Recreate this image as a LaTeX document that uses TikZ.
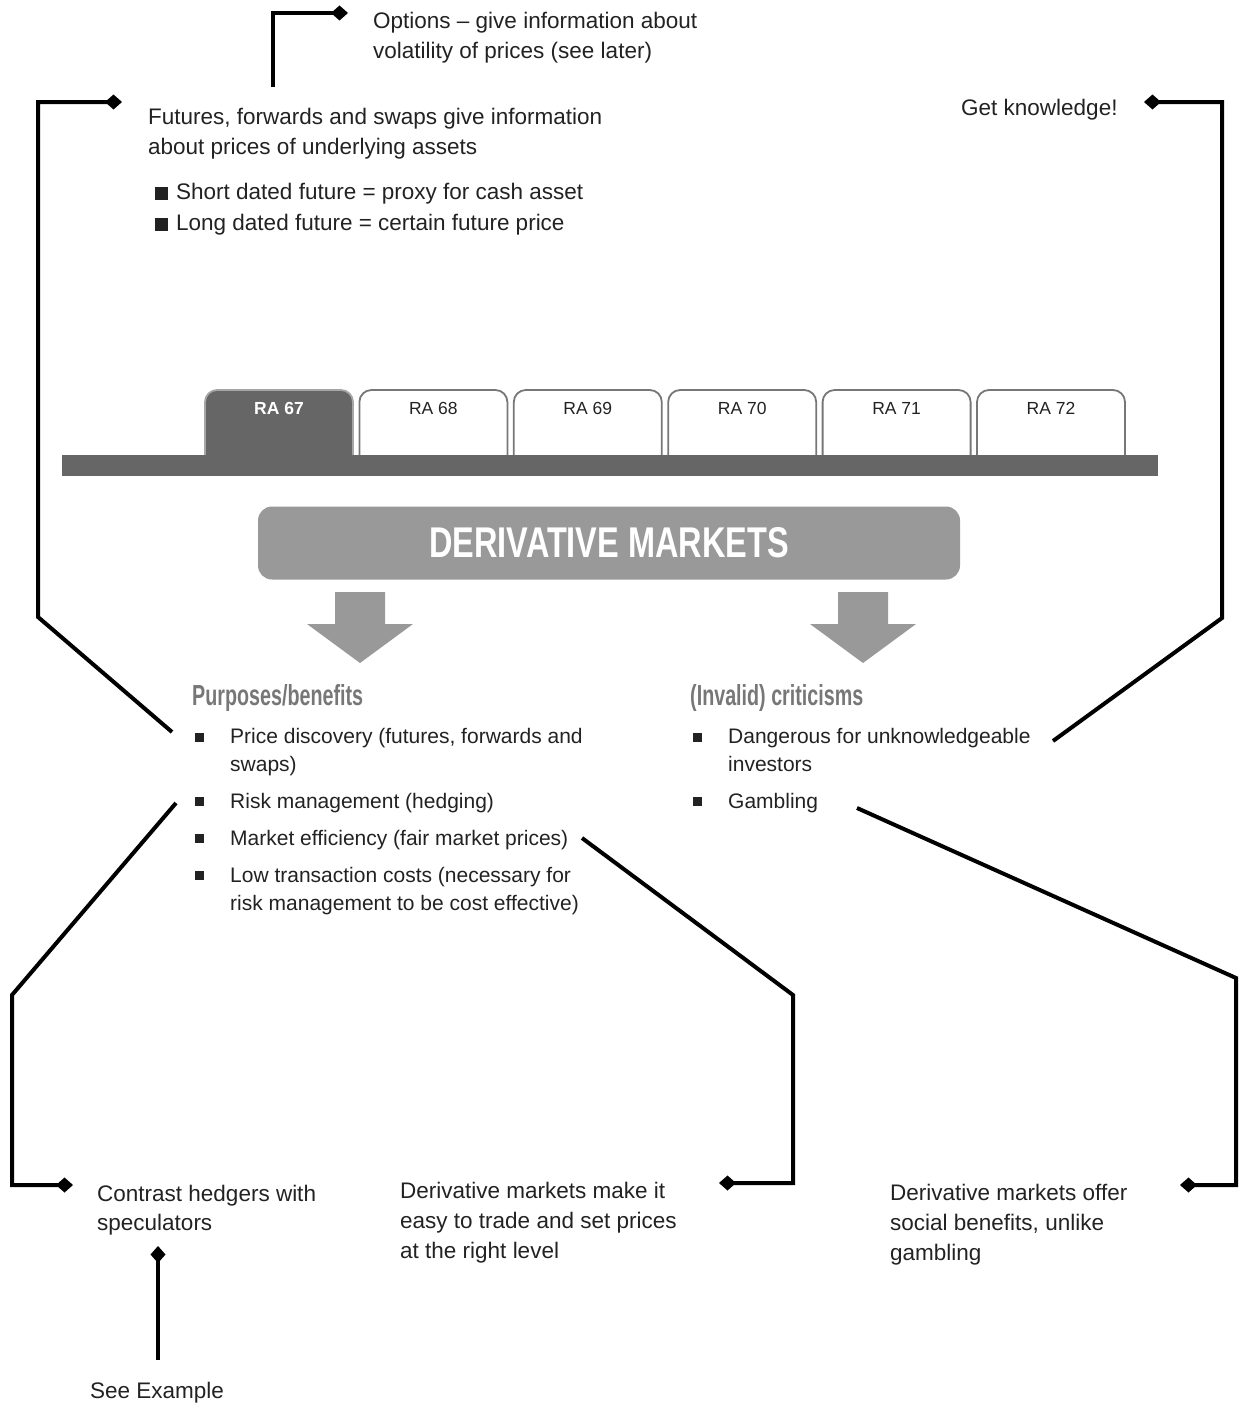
\documentclass[tikz,border=0pt]{standalone}
\usepackage{fontspec}
\usepackage{graphicx}
\setmainfont{Liberation Sans}
\newfontfamily\condfont[FakeStretch=0.68]{Liberation Sans}
\newfontfamily\dmfont[FakeStretch=0.755]{Liberation Sans}
\usetikzlibrary{arrows.meta}
\definecolor{txtc}{HTML}{222222}
\definecolor{headc}{HTML}{777777}
\definecolor{boxc}{HTML}{999999}
\definecolor{barc}{HTML}{666666}
\definecolor{tabedge}{HTML}{777777}
\begin{document}
\begin{tikzpicture}[x=1pt,y=-1pt,
  conn/.style={line width=4pt, black, line join=miter, -{Diamond[length=17pt,width=15pt]}},
  body/.style={inner sep=0, anchor=north west, align=left, text=txtc,
     font=\fontsize{22.5}{30}\selectfont, execute at begin node={\strut}},
  blist/.style={inner sep=0, anchor=north west, align=left, text=txtc,
     font=\fontsize{21}{28}\selectfont, execute at begin node={\strut}},
  sq/.style={fill=txtc, minimum size=9pt, inner sep=0},
  headtxt/.style={inner sep=0, anchor=base west, text=headc,
     font=\condfont\bfseries\fontsize{29}{34}\selectfont},
  tabline/.style={draw=tabedge, line width=1.8pt},
  tablab/.style={inner sep=0, font=\fontsize{17.5}{20}\selectfont, text=txtc},
  bigarrow/.style={fill=boxc},
  dmbox/.style={fill=boxc, rounded corners=14pt, minimum width=702pt, minimum height=73pt,
     inner sep=0, text=white, font=\dmfont\bfseries\fontsize{43}{50}\selectfont}
]
\useasboundingbox (0,0) rectangle (1239,1405);

% ---- tabs ----
\draw[tabline, fill=barc, draw=gray!70] (205,465) [rounded corners=12pt] -- (205,390) -- (353,390) -- (353,465);
\node[tablab, text=white, font=\bfseries\fontsize{17.5}{20}\selectfont] (t67) at (279,408) {RA 67};
\foreach \i in {1,...,5}{
  \pgfmathsetmacro\xa{205+154.4*\i}
  \pgfmathsetmacro\xb{\xa+148}
  \pgfmathsetmacro\xc{\xa+74}
  \pgfmathtruncatemacro\num{67+\i}
  \draw[tabline, fill=white] (\xa,465) [rounded corners=12pt] -- (\xa,390) -- (\xb,390) -- (\xb,465);
  \node[tablab] (t\num) at (\xc,408) {RA \num};
}
\fill[barc] (62,455) rectangle (1158,476);

% ---- main box and arrows ----
\node[dmbox] (dm) at (609,543) {DERIVATIVE MARKETS};
\fill[bigarrow] (335,592) -- (385,592) -- (385,624) -- (413,624) -- (360,663) -- (307,624) -- (335,624) -- cycle;
\fill[bigarrow] (838,592) -- (888,592) -- (888,624) -- (916,624) -- (863,663) -- (810,624) -- (838,624) -- cycle;

% ---- headings ----
\node[headtxt] (hp) at (192,705) {Purposes/benefits};
\node[headtxt] (hc) at (690,705) {(Invalid) criticisms};

% ---- left list ----
\node[sq] (b1) at (199,737) {};
\node[blist] (l1) at (230,728.4) {Price discovery (futures, forwards and\\swaps)};
\node[sq] (b2) at (199,801) {};
\node[blist] (l2) at (230,788.4) {Risk management (hedging)};
\node[sq] (b3) at (199,838) {};
\node[blist] (l3) at (230,825.4) {Market efficiency (fair market prices)};
\node[sq] (b4) at (199,875) {};
\node[blist] (l4) at (230,867.4) {Low transaction costs (necessary for\\risk management to be cost effective)};

% ---- right list ----
\node[sq] (b5) at (697,737) {};
\node[blist] (r1) at (728,728.4) {Dangerous for unknowledgeable\\investors};
\node[sq] (b6) at (697,801) {};
\node[blist] (r2) at (728,788.4) {Gambling};

% ---- annotation texts ----
\node[body] (opt) at (373,12) {Options -- give information about\\volatility of prices (see later)};
\node[body] (fut) at (148,108) {Futures, forwards and swaps give information\\about prices of underlying assets};
\node[body, font=\fontsize{22.5}{31}\selectfont] (fb) at (155,183.3)
  {\rule{13pt}{13pt}\hspace{8pt}Short dated future = proxy for cash asset\\
   \rule{13pt}{13pt}\hspace{8pt}Long dated future = certain future price};
\node[inner sep=0, anchor=base west, text=txtc, font=\fontsize{22.5}{30}\selectfont] (gk) at (961,115) {Get knowledge!};
\node[body, font=\fontsize{22.5}{29}\selectfont] (ch) at (97,1185) {Contrast hedgers with\\speculators};
\node[body] (me) at (400,1182) {Derivative markets make it\\easy to trade and set prices\\at the right level};
\node[body] (sb) at (890,1184) {Derivative markets offer\\social benefits, unlike\\gambling};
\node[inner sep=0, anchor=base west, text=txtc, font=\fontsize{22.5}{30}\selectfont] (se) at (90,1398) {See Example};

% ---- connectors ----
\coordinate (o1) at (273,87);
\coordinate (o2) at (273,13);
\coordinate (o3) at (348,13);
\draw[conn] (o1) -- (o2) -- (o3);

\coordinate (f1) at (172,732);
\coordinate (f2) at (38,617);
\coordinate (f3) at (38,102);
\coordinate (f4) at (122,102);
\draw[conn] (f1) -- (f2) -- (f3) -- (f4);

\coordinate (g1) at (1053,741);
\coordinate (g2) at (1222,618);
\coordinate (g3) at (1222,102);
\coordinate (g4) at (1144,102);
\draw[conn] (g1) -- (g2) -- (g3) -- (g4);

\coordinate (c1) at (176,803);
\coordinate (c2) at (12,995);
\coordinate (c3) at (12,1185);
\coordinate (c4) at (73,1185);
\draw[conn] (c1) -- (c2) -- (c3) -- (c4);

\coordinate (m1) at (582,838);
\coordinate (m2) at (793,995);
\coordinate (m3) at (793,1183);
\coordinate (m4) at (719,1183);
\draw[conn] (m1) -- (m2) -- (m3) -- (m4);

\coordinate (s1) at (857,808);
\coordinate (s2) at (1236,978);
\coordinate (s3) at (1236,1185);
\coordinate (s4) at (1180,1185);
\draw[conn] (s1) -- (s2) -- (s3) -- (s4);

\coordinate (e1) at (158,1360);
\coordinate (e2) at (158,1246);
\draw[conn] (e1) -- (e2);
\end{tikzpicture}
\end{document}
